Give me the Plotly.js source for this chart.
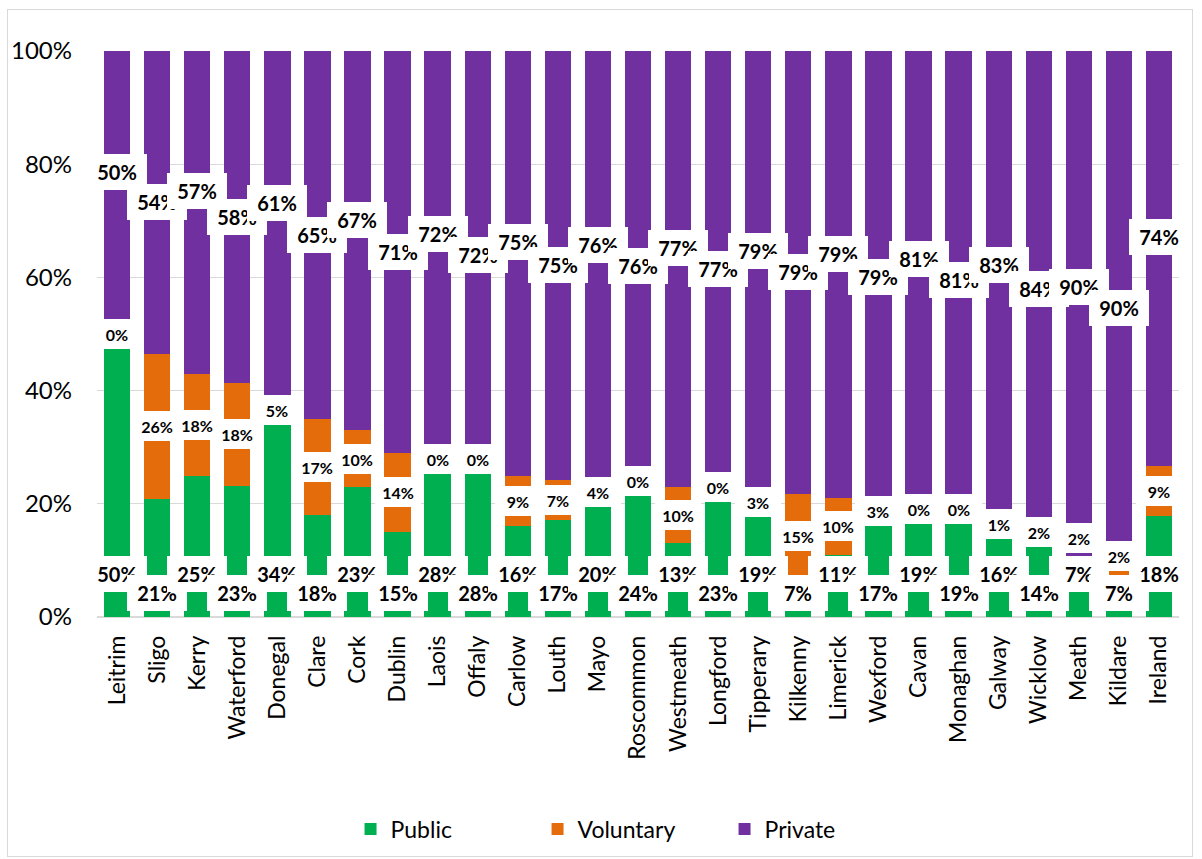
<!DOCTYPE html>
<html><head><meta charset="utf-8">
<script src="https://cdn.plot.ly/plotly-3.0.1.min.js"></script>
<style>
html,body{margin:0;padding:0;background:#fff;}
#wrap{position:relative;width:1202px;height:859px;overflow:hidden;}
#chart{width:1202px;height:859px;}
#frame{position:absolute;left:7px;top:9px;width:1186px;height:848px;border:1.5px solid #d9d9d9;box-sizing:border-box;pointer-events:none;}
</style></head><body>
<div id="wrap"><div id="chart"></div><div id="frame"></div></div>
<script>
const counties = ['Leitrim','Sligo','Kerry','Waterford','Donegal','Clare','Cork','Dublin','Laois','Offaly','Carlow','Louth','Mayo','Roscommon','Westmeath','Longford','Tipperary','Kilkenny','Limerick','Wexford','Cavan','Monaghan','Galway','Wicklow','Meath','Kildare','Ireland'];
const publicPct    = [50,21,25,23,34,18,23,15,28,28,16,17,20,24,13,23,19,7,11,17,19,19,16,14,7,7,18];
const voluntaryPct = [0,26,18,18,5,17,10,14,0,0,9,7,4,0,10,0,3,15,10,3,0,0,1,2,2,2,9];
const privatePct   = [50,54,57,58,61,65,67,71,72,72,75,75,76,76,77,77,79,79,79,79,81,81,83,84,90,90,74];
const seriesNames  = ['Public','Voluntary','Private'];
const seriesColors = ['#00B050','#E46C0A','#7030A0'];
const yTickVals = [0,20,40,60,80,100];

const FONT = 'Lato, Calibri, Carlito, sans-serif';
const seriesData = [publicPct, voluntaryPct, privatePct];

const traces = seriesData.map((vals, s) => ({
  type: 'bar',
  name: seriesNames[s],
  x: counties,
  y: vals,
  marker: {color: seriesColors[s], line: {width: 0}},
  hoverinfo: 'skip'
}));

// data labels (white boxed), positioned from the data, staggered alternately
const pubAnn = [], volAnn = [], privAnn = [];
counties.forEach((c, i) => {
  const tot = publicPct[i] + voluntaryPct[i] + privatePct[i];
  const k = 100 / tot;
  const p = publicPct[i] * k, v = voluntaryPct[i] * k, r = privatePct[i] * k;
  const raised = (i % 2 === 0);
  const pubY = raised ? 7.6 : 4.3;
  const volY = Math.max(p + v / 2, pubY + 6.4);
  const privY = p + v + r / 2 + (raised ? 3.7 : 0);
  const base = {x: c, xref: 'x', yref: 'y', showarrow: false, bgcolor: '#ffffff',
    borderpad: 0, borderwidth: 0, xanchor: 'center', yanchor: 'middle', align: 'center', valign: 'middle'};
  pubAnn.push(Object.assign({}, base, {y: pubY, text: publicPct[i] + '%', width: 60, height: 36,
    font: {family: FONT, size: 20, color: '#000', weight: 700}}));
  volAnn.push(Object.assign({}, base, {y: volY, text: voluntaryPct[i] + '%', width: 46, height: 30,
    font: {family: FONT, size: 16, color: '#000', weight: 700}}));
  privAnn.push(Object.assign({}, base, {y: privY, text: privatePct[i] + '%', width: 60, height: 36,
    font: {family: FONT, size: 20, color: '#000', weight: 700}}));
});

const layout = {
  width: 1202, height: 859,
  paper_bgcolor: '#ffffff', plot_bgcolor: '#ffffff',
  margin: {l: 97, r: 23, t: 51, b: 242},
  barmode: 'stack', barnorm: 'percent', bargap: 0.343,
  font: {family: FONT, color: '#000'},
  showlegend: true,
  legend: {orientation: 'h', xref: 'container', yref: 'container', x: 0.525, xanchor: 'center',
    y: 0.035, yanchor: 'middle', traceorder: 'normal', entrywidth: 142, entrywidthmode: 'pixels',
    font: {family: FONT, size: 23, color: '#000'}},
  xaxis: {type: 'category', range: [-0.5, counties.length - 0.5], autorange: false,
    tickangle: -90, tickfont: {family: FONT, size: 23, color: '#000'},
    showgrid: false, showline: false, ticks: '', ticklabelstandoff: 13, fixedrange: true},
  yaxis: {range: [0, 100], autorange: false, tickvals: yTickVals, ticktext: yTickVals.map(v => v + '%'),
    tickfont: {family: FONT, size: 24, color: '#000'}, showgrid: true, gridcolor: '#d9d9d9', gridwidth: 1.3,
    zeroline: true, zerolinecolor: '#d9d9d9', zerolinewidth: 1.5, showline: false, ticks: '',
    ticklabelstandoff: 24, fixedrange: true},
  annotations: pubAnn.concat(volAnn, privAnn)
};

Plotly.newPlot('chart', traces, layout, {staticPlot: true, displayModeBar: false});
</script>
</body></html>
